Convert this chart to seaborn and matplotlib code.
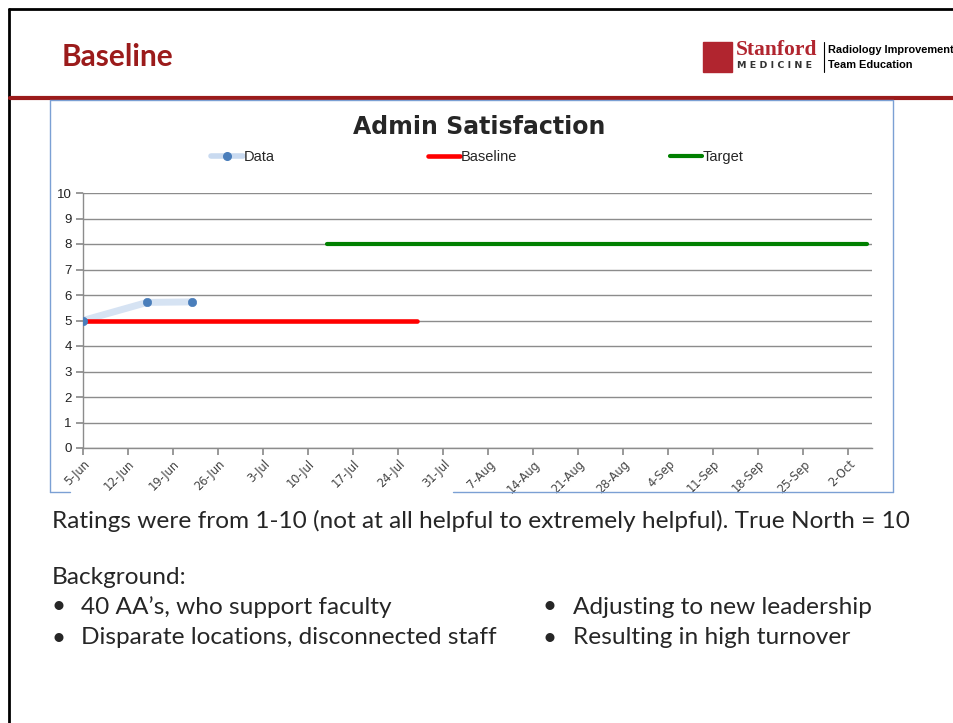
import numpy as np
import pandas as pd
import matplotlib.pyplot as plt
import matplotlib.dates as mdates
from matplotlib.lines import Line2D
from matplotlib.patches import Rectangle
import seaborn as sns

sns.set_theme(style="white")
plt.rcParams['font.family'] = ['Liberation Sans', 'DejaVu Sans']

# data
data_dates = ["2013-06-05", "2013-06-15", "2013-06-22"]
data_scores = [5.0, 5.71, 5.73]
baseline_dates = ["2013-06-05", "2013-07-27"]
baseline_scores = [5, 5]
target_dates = ["2013-07-13", "2013-10-05"]
target_scores = [8, 8]
y_ticks = list(range(0, 11))
first_tick = "2013-06-05"
n_weeks = 18

data_df = pd.DataFrame({"Date": pd.to_datetime(data_dates), "Score": data_scores})
base_df = pd.DataFrame({"Date": pd.to_datetime(baseline_dates), "Score": baseline_scores})
targ_df = pd.DataFrame({"Date": pd.to_datetime(target_dates), "Score": target_scores})

W, H = 954, 723
fig = plt.figure(figsize=(W / 100, H / 100), dpi=100)
fig.patch.set_facecolor("white")

def fx(px):
    return px / W

def fy(py):
    return 1 - py / H

# slide frame + header
fig.add_artist(Line2D([fx(9), 1], [fy(9), fy(9)], color="black", lw=2))
fig.add_artist(Line2D([fx(9), fx(9)], [fy(9), 0], color="black", lw=2))
fig.add_artist(Line2D([fx(10), 1], [fy(97.5), fy(97.5)], color="#9B1B1B", lw=3))
fig.text(fx(62), fy(57), "Baseline", color="#9B1B1B", fontsize=21.5, fontweight="bold",
         family=["Lato", "DejaVu Sans"], va="center", ha="left")

# logo (text approximation)
fig.add_artist(Rectangle((fx(703), fy(72)), fx(29), 30 / H, color="#B1252F"))
fig.text(fx(736), fy(50), "Stanford", color="#B1252F", fontsize=15.5, fontweight="bold",
         family=["Liberation Serif"], va="center", ha="left")
fig.text(fx(737), fy(66), "M E D I C I N E", color="#333333", fontsize=6.8, fontweight="bold",
         va="center", ha="left", family=["DejaVu Sans"])
fig.add_artist(Line2D([fx(824), fx(824)], [fy(42), fy(72)], color="black", lw=0.8))
fig.text(fx(828), fy(50), "Radiology Improvement", color="black", fontsize=7.9, fontweight="bold",
         va="center", ha="left")
fig.text(fx(828), fy(65), "Team Education", color="black", fontsize=7.9, fontweight="bold",
         va="center", ha="left")

# chart box
box = "#7BA0D4"
fig.add_artist(Line2D([fx(50), fx(893)], [fy(100), fy(100)], color=box, lw=1))
fig.add_artist(Line2D([fx(50), fx(50)], [fy(100), fy(492)], color=box, lw=1))
fig.add_artist(Line2D([fx(893), fx(893)], [fy(100), fy(492)], color=box, lw=1))
fig.add_artist(Line2D([fx(50), fx(70)], [fy(492), fy(492)], color=box, lw=1))
fig.add_artist(Line2D([fx(453), fx(893)], [fy(492), fy(492)], color=box, lw=1))

ax = fig.add_axes([fx(83), fy(448), fx(872) - fx(83), fy(193) - fy(448)])

sns.lineplot(data=data_df, x="Date", y="Score", ax=ax, color="#C9DAF0", lw=5,
             alpha=0.75, label="_nolegend_")
sns.scatterplot(data=data_df, x="Date", y="Score", ax=ax, color="#4A7EBB", s=36,
                edgecolor="#4A7EBB", zorder=5, label="_nolegend_")
sns.lineplot(data=base_df, x="Date", y="Score", ax=ax, color="#FF0000", lw=3.3,
             label="_nolegend_")
sns.lineplot(data=targ_df, x="Date", y="Score", ax=ax, color="#008000", lw=3,
             label="_nolegend_")

start = pd.Timestamp(first_tick)
ax.set_xlim(start, start + pd.Timedelta(days=122.7))
ax.set_ylim(0, 10)
ax.set_yticks(y_ticks)
week_ticks = pd.date_range(start, periods=n_weeks, freq="7D")
ax.set_xticks(mdates.date2num(week_ticks))
ax.set_xticklabels(["{}-{}".format(d.day, d.strftime("%b")) for d in week_ticks])
ax.set_xlabel("")
ax.set_ylabel("")
ax.grid(axis="y", color="#8C8C8C", lw=1)
ax.set_axisbelow(True)
for s in ["top", "right"]:
    ax.spines[s].set_visible(False)
for s in ["left", "bottom"]:
    ax.spines[s].set_color("#8C8C8C")
    ax.spines[s].set_linewidth(1)
ax.tick_params(axis="y", which="major", left=True, length=5, color="#8C8C8C",
               labelsize=9.5, labelcolor="#222222", pad=3)
ax.tick_params(axis="x", which="major", bottom=True, length=5, color="#8C8C8C",
               labelsize=8.3, labelcolor="#444444", pad=2)
for lab in ax.get_xticklabels():
    lab.set_rotation(45)
    lab.set_ha("right")
    lab.set_rotation_mode("anchor")
    lab.set_family(["DejaVu Sans"])
ax.patch.set_alpha(0)

fig.text(fx(479), fy(127), "Admin Satisfaction", fontsize=17, fontweight="bold",
         ha="center", va="center", family=["DejaVu Sans"])

handles = [
    Line2D([], [], color="#C9DAF0", lw=4, marker="o", markersize=5.5,
           markerfacecolor="#4A7EBB", markeredgecolor="#4A7EBB"),
    Line2D([], [], color="#FF0000", lw=3.3),
    Line2D([], [], color="#008000", lw=3),
]
fig.legend(handles, ["Data", "Baseline", "Target"], ncol=3, frameon=False,
           loc="center left", bbox_to_anchor=(fx(211), fy(157)),
           fontsize=10.5, handlelength=2.2, handletextpad=0.05,
           columnspacing=10.5, borderpad=0, borderaxespad=0)

# notes below the chart
body = ["Lato", "DejaVu Sans"]
fs = 17.6
fig.text(fx(52), fy(521), "Ratings were from 1-10 (not at all helpful to extremely helpful). True North = 10",
         fontsize=fs, family=body, va="center", ha="left")
fig.text(fx(52), fy(577), "Background:", fontsize=fs, family=body, va="center", ha="left")
left_items = ["40 AA\u2019s, who support faculty", "Disparate locations, disconnected staff"]
right_items = ["Adjusting to new leadership", "Resulting in high turnover"]
for i, t in enumerate(left_items):
    yy = fy(607 + 31 * i)
    fig.text(fx(52), yy, "\u2022", fontsize=fs, family=body, va="center", ha="left")
    fig.text(fx(81), yy, t, fontsize=fs, family=body, va="center", ha="left")
for i, t in enumerate(right_items):
    yy = fy(607 + 31 * i)
    fig.text(fx(543), yy, "\u2022", fontsize=fs, family=body, va="center", ha="left")
    fig.text(fx(573), yy, t, fontsize=fs, family=body, va="center", ha="left")

fig.savefig("out.png", dpi=100, facecolor="white")
